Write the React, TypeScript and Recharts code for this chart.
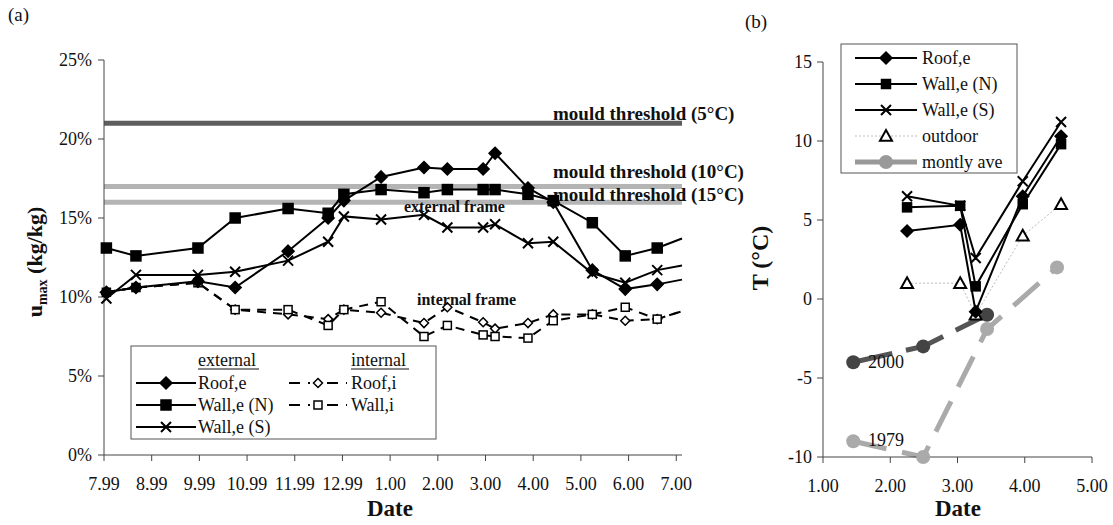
import React from "react";
import { LineChart, Line, XAxis, YAxis, ReferenceLine } from "recharts";

const SERIF = "'Liberation Serif', 'Times New Roman', serif";

// ---- (a) moisture content ----
const monthLabels = ["7.99", "8.99", "9.99", "10.99", "11.99", "12.99", "1.00", "2.00", "3.00", "4.00", "5.00", "6.00", "7.00"];
const monthTicks = [0, 1, 2, 3, 4, 5, 6, 7, 8, 9, 10, 11, 12];
const measureDates = [0.05, 0.67, 1.97, 2.75, 3.86, 4.7, 5.03, 5.81, 6.71, 7.2, 7.95, 8.2, 8.89, 9.42, 10.24, 10.93, 11.6, 12.12];
const roofE = [10.3, 10.6, 11.0, 10.6, 12.9, 15.0, 16.1, 17.6, 18.2, 18.1, 18.1, 19.1, 16.9, 16.0, 11.7, 10.5, 10.8, 11.1];
const wallEN = [13.1, 12.6, 13.1, 15.0, 15.6, 15.3, 16.5, 16.8, 16.6, 16.8, 16.8, 16.8, 16.5, 16.1, 14.7, 12.6, 13.1, 13.7];
const wallES = [9.9, 11.4, 11.4, 11.6, 12.3, 13.5, 15.1, 14.9, 15.2, 14.4, 14.4, 14.6, 13.4, 13.5, 11.5, 10.9, 11.7, 12.0];
const roofI = [10.3, 10.6, 10.9, 9.2, 8.9, 8.6, 9.2, 9.0, 8.35, 9.35, 8.4, 8.0, 8.35, 8.9, 8.9, 8.5, 8.6, 9.1];
const wallI = [10.3, 10.6, 10.9, 9.2, 9.2, 8.2, 9.2, 9.7, 7.5, 8.2, 7.6, 7.5, 7.4, 8.5, 8.9, 9.35, 8.6, 9.1];
const uTicks = [0, 5, 10, 15, 20, 25];

const thresholdValues = [21, 17, 16];
const thresholdLabels = ["mould threshold (5°C)", "mould threshold (10°C)", "mould threshold (15°C)"];
const thresholdColors = ["#5e5e5e", "#b4b4b4", "#b4b4b4"];
const thresholdDy = [-3, -8, -1];

const leftData = measureDates.map((date, i) => ({
  date,
  roofE: roofE[i],
  wallEN: wallEN[i],
  wallES: wallES[i],
  roofI: roofI[i],
  wallI: wallI[i],
}));

// ---- (b) temperature ----
const tDates = [2.25, 3.04, 3.27, 3.97, 4.54];
const roofET = [4.3, 4.7, -0.8, 6.5, 10.3];
const wallENT = [5.8, 5.9, 0.8, 6.0, 9.8];
const wallEST = [6.5, 5.9, 2.6, 7.45, 11.2];
const outdoorT = [1.0, 1.0, -1.0, 4.0, 6.0];
const aveDates2000 = [1.45, 2.49, 3.44];
const ave2000 = [-4.0, -3.0, -1.0];
const aveDates1979 = [1.45, 2.49, 3.44, 4.48];
const ave1979 = [-9.0, -10.0, -1.9, 2.0];
const tTicks = [-10, -5, 0, 5, 10, 15];
const tXTicks = [1, 2, 3, 4, 5];

const toPts = (xs: number[], ys: number[]) => xs.map((x, i) => ({ x, y: ys[i] }));

type Kind = "diamond" | "square" | "cross" | "triangle" | "circle";

function Marker({ kind, cx, cy, s, fill, stroke }: { kind: Kind; cx: number; cy: number; s: number; fill: string; stroke: string }) {
  if (kind === "diamond")
    return <path d={`M${cx},${cy - s}L${cx + s},${cy}L${cx},${cy + s}L${cx - s},${cy}Z`} fill={fill} stroke={stroke} strokeWidth={1.5} />;
  if (kind === "square")
    return <rect x={cx - s} y={cy - s} width={2 * s} height={2 * s} fill={fill} stroke={stroke} strokeWidth={1.5} />;
  if (kind === "cross")
    return (
      <path d={`M${cx - s},${cy - s}L${cx + s},${cy + s}M${cx - s},${cy + s}L${cx + s},${cy - s}`} stroke={stroke} strokeWidth={2} fill="none" />
    );
  if (kind === "triangle")
    return <path d={`M${cx},${cy - s}L${cx + s},${cy + s * 0.8}L${cx - s},${cy + s * 0.8}Z`} fill={fill} stroke={stroke} strokeWidth={2} />;
  return <circle cx={cx} cy={cy} r={s} fill={fill} stroke="none" />;
}

function makeDot(kind: Kind, s: number, fill: string, stroke: string, hideIndex = -1) {
  return (p: any) => {
    if (p.cx == null || p.cy == null || p.index === hideIndex) return <g key={`d${p.index}`} />;
    return (
      <g key={`d${p.index}`}>
        <Marker kind={kind} cx={p.cx} cy={p.cy} s={s} fill={fill} stroke={stroke} />
      </g>
    );
  };
}

const last = measureDates.length - 1;

const leftSeries = [
  { key: "roofI", name: "Roof,i", kind: "diamond" as Kind, s: 4.5, fill: "#fff", dash: "9 7" },
  { key: "wallI", name: "Wall,i", kind: "square" as Kind, s: 4, fill: "#fff", dash: "9 7" },
  { key: "roofE", name: "Roof,e", kind: "diamond" as Kind, s: 6, fill: "#000", dash: undefined },
  { key: "wallEN", name: "Wall,e (N)", kind: "square" as Kind, s: 5, fill: "#000", dash: undefined },
  { key: "wallES", name: "Wall,e (S)", kind: "cross" as Kind, s: 5, fill: "#000", dash: undefined },
];

function ThresholdLabel(props: any) {
  const { viewBox, text, dy } = props;
  if (!viewBox) return null;
  return (
    <text x={viewBox.x + viewBox.width - 129} y={viewBox.y + dy} fontFamily={SERIF} fontWeight="bold" fontSize={19} fill="#111">
      {text}
    </text>
  );
}

const axisTick = { fill: "#111", fontSize: 18, fontFamily: SERIF };

export default function App() {
  const rightSeries = [
    { name: "montly ave 2000", data: toPts(aveDates2000, ave2000), color: "#555", width: 5, dash: "40 14", kind: "circle" as Kind, s: 7, fill: "#444", mstroke: "none" },
    { name: "montly ave 1979", data: toPts(aveDates1979, ave1979), color: "#aaa", width: 5, dash: "34 16", kind: "circle" as Kind, s: 7, fill: "#aaa", mstroke: "none" },
    { name: "outdoor", data: toPts(tDates, outdoorT), color: "#bbb", width: 1, dash: "2 2", kind: "triangle" as Kind, s: 6, fill: "#fff", mstroke: "#000" },
    { name: "Roof,e", data: toPts(tDates, roofET), color: "#000", width: 2, dash: undefined, kind: "diamond" as Kind, s: 6, fill: "#000", mstroke: "#000" },
    { name: "Wall,e (N)", data: toPts(tDates, wallENT), color: "#000", width: 2, dash: undefined, kind: "square" as Kind, s: 4.5, fill: "#000", mstroke: "#000" },
    { name: "Wall,e (S)", data: toPts(tDates, wallEST), color: "#000", width: 2, dash: undefined, kind: "cross" as Kind, s: 5, fill: "#000", mstroke: "#000" },
  ];

  const extLegend = leftSeries.filter((s) => !s.dash);
  const intOrder = [leftSeries.find((s) => s.key === "roofI")!, leftSeries.find((s) => s.key === "wallI")!];

  const rightLegend = [
    { name: "Roof,e", color: "#000", width: 2, kind: "diamond" as Kind, s: 6, fill: "#000", mstroke: "#000" },
    { name: "Wall,e (N)", color: "#000", width: 2, kind: "square" as Kind, s: 4.5, fill: "#000", mstroke: "#000" },
    { name: "Wall,e (S)", color: "#000", width: 2, kind: "cross" as Kind, s: 5, fill: "#000", mstroke: "#000" },
    { name: "outdoor", color: "#bbb", width: 1, kind: "triangle" as Kind, s: 6, fill: "#fff", mstroke: "#000" },
    { name: "montly ave", color: "#999", width: 5, kind: "circle" as Kind, s: 7, fill: "#999", mstroke: "none" },
  ];

  return (
    <div style={{ position: "absolute", left: 0, top: 0, width: 1113, height: 525, background: "#fff", fontFamily: SERIF }}>
      <div style={{ position: "absolute", left: 0, top: 0 }}>
        <LineChart width={745} height={525} data={leftData} margin={{ top: 60, right: 63, bottom: 30, left: 0 }}>
          <XAxis
            type="number"
            dataKey="date"
            domain={[0, 12.12]}
            ticks={monthTicks}
            tickFormatter={(v: number) => monthLabels[v]}
            height={40}
            stroke="#444"
            tickSize={6}
            tickMargin={16}
            tick={axisTick}
          />
          <YAxis
            type="number"
            domain={[0, 25]}
            ticks={uTicks}
            tickFormatter={(v: number) => `${v}%`}
            width={104}
            stroke="#444"
            tickSize={6}
            tickMargin={6}
            tick={axisTick}
          />
          {thresholdValues.map((v, i) => (
            <ReferenceLine
              key={v}
              y={v}
              stroke={thresholdColors[i]}
              strokeWidth={5}
              label={<ThresholdLabel text={thresholdLabels[i]} dy={thresholdDy[i]} />}
            />
          ))}
          {leftSeries.map((s) => (
            <Line
              key={s.key}
              dataKey={s.key}
              name={s.name}
              type="linear"
              stroke="#000"
              strokeWidth={2}
              strokeDasharray={s.dash}
              dot={makeDot(s.kind, s.s, s.fill, "#000", last)}
              activeDot={false}
              isAnimationActive={false}
            />
          ))}
        </LineChart>
      </div>

      <div style={{ position: "absolute", left: 720, top: 0 }}>
        <LineChart width={393} height={525} margin={{ top: 62, right: 21, bottom: 28, left: 0 }}>
          <XAxis
            type="number"
            dataKey="x"
            domain={[1, 5]}
            ticks={tXTicks}
            tickFormatter={(v: number) => v.toFixed(2)}
            height={40}
            stroke="#444"
            tickSize={6}
            tickMargin={16}
            tick={axisTick}
          />
          <YAxis type="number" domain={[-10, 15]} ticks={tTicks} width={103} stroke="#444" tickSize={6} tickMargin={5} tick={axisTick} />
          {rightSeries.map((s) => (
            <Line
              key={s.name}
              data={s.data}
              dataKey="y"
              name={s.name}
              type="linear"
              stroke={s.color}
              strokeWidth={s.width}
              strokeDasharray={s.dash}
              dot={makeDot(s.kind, s.s, s.fill, s.mstroke)}
              activeDot={false}
              isAnimationActive={false}
            />
          ))}
        </LineChart>
      </div>

      <svg width={1113} height={525} style={{ position: "absolute", left: 0, top: 0, pointerEvents: "none" }}>
        <g fontFamily={SERIF} fill="#111">
          <text x={8} y={21} fontSize={19}>(a)</text>
          <text x={745} y={28} fontSize={19}>(b)</text>

          <text transform="translate(42,262) rotate(-90)" textAnchor="middle" fontSize={22} fontWeight="bold">
            u<tspan fontSize={14} dy={5}>max</tspan>
            <tspan dy={-5}> (kg/kg)</tspan>
          </text>
          <text transform="translate(768,258) rotate(-90)" textAnchor="middle" fontSize={24} fontWeight="bold">
            T (°C)
          </text>
          <text x={390} y={516} textAnchor="middle" fontSize={23} fontWeight="bold">Date</text>
          <text x={958} y={516} textAnchor="middle" fontSize={23} fontWeight="bold">Date</text>

          <text x={404} y={212} fontSize={16} fontWeight="bold">external frame</text>
          <text x={417} y={305} fontSize={16} fontWeight="bold">internal frame</text>

          <text x={868} y={368} fontSize={18}>2000</text>
          <text x={868} y={446} fontSize={18}>1979</text>
        </g>

        {/* legend (a) */}
        <rect x={131} y={346} width={305} height={93} fill="#fff" stroke="#555" strokeWidth={1} />
        <g fontFamily={SERIF} fontSize={18} fill="#111">
          <text x={198} y={366}>external</text>
          <line x1={198} x2={259} y1={369} y2={369} stroke="#111" strokeWidth={1} />
          <text x={351} y={366}>internal</text>
          <line x1={351} x2={409} y1={369} y2={369} stroke="#111" strokeWidth={1} />
          {extLegend.map((s, i) => {
            const y = 383 + i * 22;
            return (
              <g key={s.key}>
                <line x1={136} x2={196} y1={y} y2={y} stroke="#000" strokeWidth={2} />
                <Marker kind={s.kind} cx={166} cy={y} s={s.s} fill={s.fill} stroke="#000" />
                <text x={198} y={y + 6}>{s.name}</text>
              </g>
            );
          })}
          {intOrder.map((s, i) => {
            const y = 383 + i * 22;
            return (
              <g key={s.key}>
                <line x1={289} x2={347} y1={y} y2={y} stroke="#000" strokeWidth={2} strokeDasharray="11 8" />
                <rect x={310} y={y - 6} width={16} height={12} fill="#fff" />
                <Marker kind={s.kind} cx={318} cy={y} s={s.s} fill={s.fill} stroke="#000" />
                <text x={351} y={y + 6}>{s.name}</text>
              </g>
            );
          })}
        </g>

        {/* legend (b) */}
        <rect x={841} y={44} width={176} height={129} fill="#fff" stroke="#555" strokeWidth={1} />
        <g fontFamily={SERIF} fontSize={18} fill="#111">
          {rightLegend.map((s, i) => {
            const y = 58 + i * 26;
            return (
              <g key={s.name}>
                <line x1={855} x2={917} y1={y} y2={y} stroke={s.color} strokeWidth={s.width} strokeDasharray={s.width === 1 ? "2 2" : undefined} />
                <Marker kind={s.kind} cx={886} cy={y} s={s.s} fill={s.fill} stroke={s.mstroke} />
                <text x={922} y={y + 6}>{s.name}</text>
              </g>
            );
          })}
        </g>
      </svg>
    </div>
  );
}
